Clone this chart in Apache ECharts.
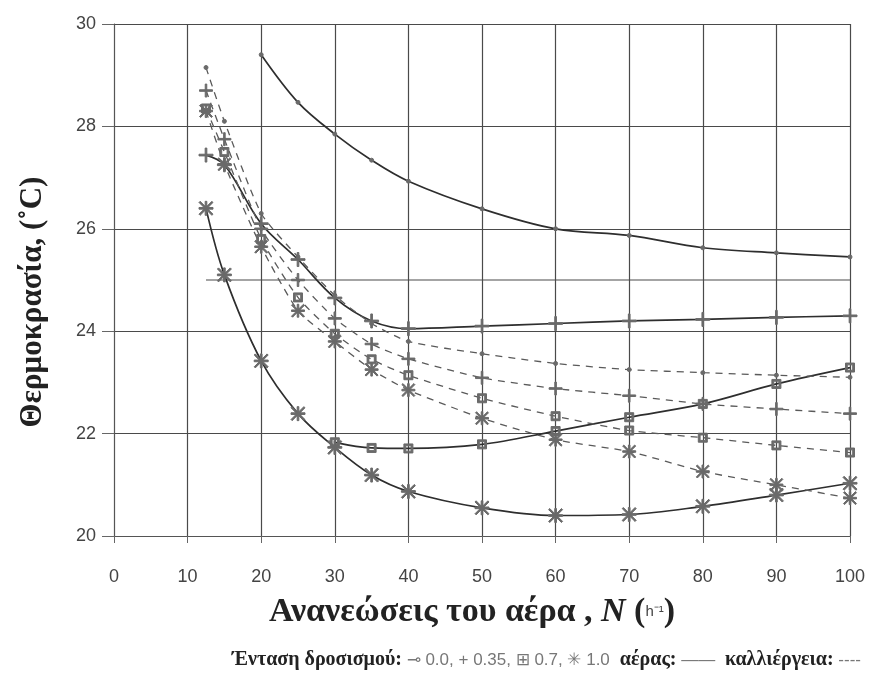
<!DOCTYPE html>
<html>
<head>
<meta charset="utf-8">
<script src="https://cdn.jsdelivr.net/npm/echarts@6/dist/echarts.min.js"></script>
<style>
  html, body { margin: 0; padding: 0; background: #ffffff; }
  #chart { width: 875px; height: 675px; }
</style>
</head>
<body>
<div id="chart"></div>
<script>
// Air renewals N (h^-1) at which temperatures were computed
const nFull = [12.5, 15, 20, 25, 30, 35, 40, 50, 60, 70, 80, 90, 100];
const nFrom20 = [20, 25, 30, 35, 40, 50, 60, 70, 80, 90, 100];
const nFrom30 = [30, 35, 40, 50, 60, 70, 80, 90, 100];

// Air temperature (solid lines), one array per cooling intensity
const air00 = [29.4, 28.47, 27.85, 27.34, 26.93, 26.39, 26.0, 25.87, 25.63, 25.53, 25.45];
const air035 = [27.44, 27.25, 26.1, 25.4, 24.65, 24.2, 24.05, 24.1, 24.15, 24.2, 24.23, 24.27, 24.3];
const air07 = [21.83, 21.72, 21.71, 21.79, 22.05, 22.32, 22.58, 22.97, 23.29];
const air10 = [26.4, 25.1, 23.42, 22.39, 21.73, 21.19, 20.87, 20.55, 20.4, 20.42, 20.58, 20.8, 21.03];

// Crop temperature (dashed lines)
const crop00 = [29.15, 28.1, 26.3, 25.45, 24.7, 24.15, 23.8, 23.56, 23.37, 23.25, 23.19, 23.14, 23.1];
const crop035 = [28.7, 27.75, 26.0, 25.0, 24.25, 23.75, 23.46, 23.09, 22.88, 22.74, 22.58, 22.48, 22.39];
const crop07 = [28.35, 27.5, 25.8, 24.66, 23.95, 23.45, 23.14, 22.69, 22.34, 22.06, 21.92, 21.77, 21.63];
const crop10 = [28.3, 27.26, 25.65, 24.4, 23.8, 23.25, 22.85, 22.3, 21.88, 21.65, 21.26, 21.0, 20.74];

// 25 °C reference level
const refN = [12.5, 100];
const refT = [25, 25];

// Axis ticks
const xTicks = [0, 10, 20, 30, 40, 50, 60, 70, 80, 90, 100];
const yTicks = [20, 22, 24, 26, 28, 30];

const pairs = (xs, ys) => xs.map((x, i) => [x, ys[i]]);

// Marker shapes
const plusSym = 'path://M4.4,0h1.2v10h-1.2zM0,4.4h10v1.2h-10z';
const starSym = 'path://M4.4,0h1.2v10h-1.2zM0,4.4h10v1.2h-10zM0.8,0L10,9.2L9.2,10L0,0.8zM9.2,0L10,0.8L0.8,10L0,9.2z';
const squareSym = 'path://M0,0h10v10h-10zM2,2v6h6v-6z';

const solidStyle = { color: '#2e2e2e', width: 1.7, type: 'solid' };
const dashStyle = { color: '#5a5a5a', width: 1.3, type: [7, 6] };

function makeSeries(name, xs, ys, symbol, size, lineStyle, smooth) {
  return {
    name: name,
    type: 'line',
    data: pairs(xs, ys),
    symbol: symbol,
    symbolSize: size,
    smooth: smooth,
    lineStyle: lineStyle,
    itemStyle: { color: '#6a6a6a', borderColor: '#6a6a6a' },
    emphasis: { disabled: true },
    z: 3
  };
}

const chart = echarts.init(document.getElementById('chart'), null, { renderer: 'canvas' });

const serif = '"Liberation Serif", "DejaVu Serif", serif';
const sans = '"Liberation Sans", Arial, sans-serif';

chart.setOption({
  animation: false,
  backgroundColor: '#ffffff',
  grid: { left: 114, right: 25, top: 24, bottom: 139, containLabel: false },
  xAxis: {
    type: 'value',
    min: xTicks[0],
    max: xTicks[xTicks.length - 1],
    interval: 10,
    axisLine: { show: true, lineStyle: { color: '#555', width: 1 } },
    axisTick: { show: true, length: 7, lineStyle: { color: '#666' } },
    axisLabel: { color: '#444', fontSize: 18, fontFamily: sans, margin: 32 },
    splitLine: { show: true, lineStyle: { color: '#4a4a4a', width: 1.2 } }
  },
  yAxis: {
    type: 'value',
    min: yTicks[0],
    max: yTicks[yTicks.length - 1],
    interval: 2,
    axisLine: { show: true, lineStyle: { color: '#555', width: 1 } },
    axisTick: { show: true, length: 12, lineStyle: { color: '#666' } },
    axisLabel: { color: '#444', fontSize: 18, fontFamily: sans, margin: 18 },
    splitLine: { show: true, lineStyle: { color: '#4a4a4a', width: 1.2 } }
  },
  series: [
    {
      name: 'ref25',
      type: 'line',
      data: pairs(refN, refT),
      symbol: 'none',
      lineStyle: { color: '#4a4a4a', width: 1.2 },
      emphasis: { disabled: true },
      z: 2
    },
    makeSeries('αέρας 0.0', nFrom20, air00, 'circle', 4, solidStyle, 0.35),
    makeSeries('αέρας 0.35', nFull, air035, plusSym, 14, solidStyle, 0.35),
    makeSeries('αέρας 0.7', nFrom30, air07, squareSym, 9, solidStyle, 0.35),
    makeSeries('αέρας 1.0', nFull, air10, starSym, 14, solidStyle, 0.35),
    makeSeries('καλλιέργεια 0.0', nFull, crop00, 'circle', 4, dashStyle, 0.2),
    makeSeries('καλλιέργεια 0.35', nFull, crop035, plusSym, 13, dashStyle, 0.2),
    makeSeries('καλλιέργεια 0.7', nFull, crop07, squareSym, 9, dashStyle, 0.2),
    makeSeries('καλλιέργεια 1.0', nFull, crop10, starSym, 13, dashStyle, 0.2)
  ],
  graphic: [
    {
      type: 'text',
      x: 472,
      y: 612,
      style: {
        text: '{t|Ανανεώσεις του αέρα , }{i|N}{t| (}{u|h⁻¹}{t|)}',
        textAlign: 'center',
        textVerticalAlign: 'middle',
        rich: {
          t: { fontFamily: serif, fontWeight: 'bold', fontSize: 34, fill: '#222' },
          i: { fontFamily: serif, fontWeight: 'bold', fontStyle: 'italic', fontSize: 34, fill: '#222' },
          u: { fontFamily: sans, fontSize: 15, fill: '#444' }
        }
      }
    },
    {
      type: 'text',
      x: 33,
      y: 302,
      rotation: Math.PI / 2,
      style: {
        text: 'Θερμοκρασία, (˚C)',
        fontFamily: serif,
        fontWeight: 'bold',
        fontSize: 31,
        fill: '#222',
        textAlign: 'center',
        textVerticalAlign: 'middle'
      }
    },
    {
      type: 'text',
      x: 232,
      y: 660,
      style: {
        text: '{b|Ένταση δροσισμού:}{s| ⊸ 0.0, + 0.35, ⊞ 0.7, ✳ 1.0}{b|  αέρας:}{s| —— }{b| καλλιέργεια:}{s| ----}',
        textVerticalAlign: 'middle',
        rich: {
          b: { fontFamily: serif, fontWeight: 'bold', fontSize: 20, fill: '#222' },
          s: { fontFamily: sans, fontSize: 17, fill: '#777' }
        }
      }
    }
  ]
});
</script>
</body>
</html>
